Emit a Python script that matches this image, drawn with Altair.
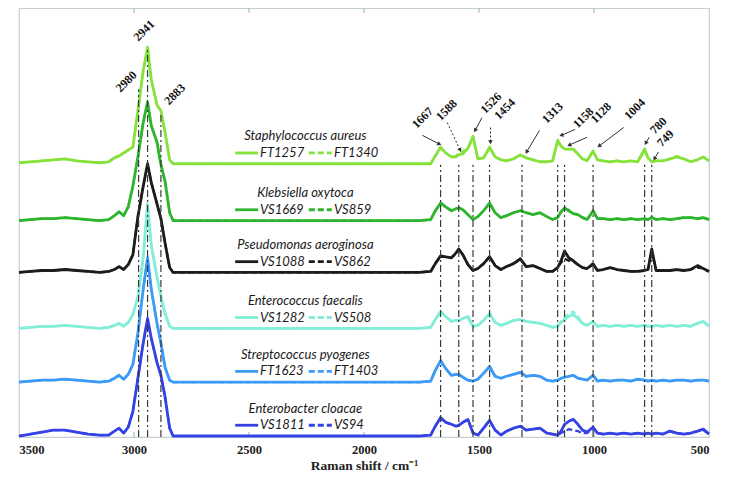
import math
import altair as alt
import pandas as pd

# ---------------- data ----------------
WN = [3500, 3450, 3400, 3350, 3300, 3250, 3200, 3150, 3110, 3085, 3065, 3045, 3025, 3005,
      2983, 2960, 2941, 2925, 2900, 2883, 2865, 2845, 2830,
      1760, 1710, 1690, 1667, 1645, 1620, 1600, 1588, 1570, 1548,
      1526, 1505, 1480, 1454, 1430, 1405, 1380, 1350, 1320, 1295,
      1265, 1235, 1205, 1180, 1158, 1143, 1128, 1110, 1090, 1070,
      1050, 1030, 1004, 985, 960, 930, 900, 870, 840, 810,
      780, 765, 749, 730, 700, 670, 640, 610, 580, 550,
      525, 500]

SPECIES = ["Staphylococcus aureus", "Klebsiella oxytoca", "Pseudomonas aeroginosa",
           "Enterococcus faecalis", "Streptococcus pyogenes", "Enterobacter cloacae"]
STRAIN_SOLID = ["FT1257", "VS1669", "VS1088", "VS1282", "FT1623", "VS1811"]
STRAIN_DASHED = ["FT1340", "VS859", "VS862", "VS508", "FT1403", "VS94"]

SA_FT1257 = [1, 2, 3, 4, 5, 3, 2, 1, 2, 6, 8, 11, 14, 17, 54, 95, 119, 86, 60, 54, 32, 4, 0,
             0, 0, 8, 17, 11, 7, 7, 9, 10, 16,
             28, 5, 6, 17, 7, 4, 3, 5, 9, 6,
             4, 2, 2, 3, 24, 18, 15, 15, 15, 10,
             5, 3, 13, 4, 3, 2, 3, 2, 3, 2,
             15, 6, 2, 3, 3, 5, 7, 5, 2, 4,
             7, 3]
SA_FT1340 = [1, 2, 3, 4, 5, 3, 2, 1, 2, 6, 8, 11, 14, 17, 54, 95, 118, 86, 60, 54, 32, 4, 0,
             0, 0, 8, 16, 11, 7, 8, 11, 13, 15,
             27, 5, 6, 16, 7, 4, 3, 5, 9, 6,
             4, 2, 2, 3, 22, 18, 15, 15, 14, 10,
             5, 3, 12, 4, 3, 2, 3, 2, 3, 2,
             13, 6, 2, 3, 3, 5, 8, 5, 2, 4,
             7, 3]
KO_VS1669 = [0, 1, 2, 2, 3, 2, 1, 0, 1, 5, 9, 5, 14, 35, 65, 100, 121, 97, 80, 57, 40, 8, 0,
             0, 1, 10, 18, 14, 10, 12, 13, 11, 6,
             1, 4, 10, 18, 8, 3, 5, 8, 10, 8,
             6, 8, 4, 1, 3, 9, 13, 10, 7, 6,
             3, 1, 10, 2, 2, 1, 2, 1, 2, 1,
             2, 1, 3, 1, 2, 1, 2, 3, 3, 2,
             3, 1]
KO_VS859 = [0, 1, 2, 2, 3, 2, 1, 0, 1, 5, 9, 5, 14, 35, 65, 100, 120, 97, 80, 57, 40, 8, 0,
            0, 1, 10, 17, 14, 10, 12, 13, 11, 6,
            1, 4, 10, 17, 8, 3, 5, 8, 10, 8,
            6, 8, 4, 1, 3, 9, 12, 11, 7, 6,
            3, 1, 9, 2, 2, 1, 2, 1, 2, 1,
            2, 1, 3, 1, 2, 1, 2, 3, 3, 2,
            3, 1]
PA_VS1088 = [0, 1, 2, 2, 3, 2, 1, 0, 1, 3, 6, 3, 8, 18, 57, 88, 111, 92, 70, 55, 30, 5, 0,
             0, 1, 9, 17, 16, 15, 20, 24, 18, 8,
             2, 4, 9, 16, 7, 3, 6, 9, 14, 6,
             7, 4, 1, 1, 5, 12, 22, 15, 12, 8,
             5, 4, 9, 2, 3, 5, 3, 2, 1, 1,
             2, 3, 24, 2, 2, 2, 3, 2, 3, 7,
             4, 1]
PA_VS862 = [0, 1, 2, 2, 3, 2, 1, 0, 1, 3, 6, 3, 8, 18, 57, 88, 110, 92, 70, 55, 30, 5, 0,
            0, 1, 9, 16, 16, 15, 19, 23, 18, 8,
            2, 4, 9, 16, 7, 3, 6, 9, 13, 6,
            7, 4, 1, 1, 5, 10, 14, 12, 11, 8,
            5, 4, 8, 2, 3, 5, 3, 2, 1, 1,
            2, 3, 22, 2, 2, 2, 3, 2, 3, 5,
            4, 1]
EF_VS1282 = [0, 1, 2, 2, 3, 2, 1, 0, 1, 3, 5, 2, 6, 14, 32, 72, 127, 85, 52, 33, 15, 2, 0,
             0, 1, 9, 17, 12, 7, 8, 8, 10, 12,
             2, 3, 8, 15, 6, 3, 5, 8, 9, 7,
             6, 5, 3, 1, 2, 6, 9, 12, 14, 10,
             5, 3, 7, 2, 3, 2, 3, 2, 3, 2,
             3, 2, 2, 3, 2, 3, 2, 3, 2, 5,
             7, 2]
EF_VS508 = [0, 1, 2, 2, 3, 2, 1, 0, 1, 3, 5, 2, 6, 14, 32, 72, 126, 85, 52, 33, 15, 2, 0,
            0, 1, 9, 16, 12, 7, 8, 8, 10, 10,
            2, 3, 8, 15, 6, 3, 5, 8, 9, 7,
            6, 5, 3, 1, 3, 7, 11, 15, 17, 12,
            5, 3, 7, 2, 3, 2, 3, 2, 3, 2,
            3, 2, 2, 3, 2, 3, 2, 3, 2, 5,
            7, 2]
SP_FT1623 = [0, 1, 2, 2, 3, 2, 1, 0, 1, 4, 7, 3, 8, 18, 50, 95, 127, 95, 60, 40, 15, 2, 0,
             0, 1, 12, 22, 14, 7, 8, 8, 5, 2,
             1, 3, 9, 16, 6, 4, 6, 8, 10, 6,
             7, 6, 2, 1, 2, 4, 5, 6, 7, 4,
             3, 2, 7, 1, 2, 1, 2, 2, 1, 3,
             2, 1, 2, 1, 2, 1, 2, 2, 1, 2,
             2, 1]
SP_FT1403 = [0, 1, 2, 2, 3, 2, 1, 0, 1, 4, 7, 3, 8, 18, 50, 95, 126, 95, 60, 40, 15, 2, 0,
             0, 1, 12, 21, 14, 7, 8, 8, 5, 2,
             1, 3, 9, 16, 6, 4, 6, 8, 10, 6,
             7, 6, 2, 1, 2, 4, 5, 6, 7, 4,
             3, 2, 7, 1, 2, 1, 2, 2, 1, 3,
             2, 1, 2, 1, 2, 1, 2, 2, 1, 2,
             2, 1]
EC_VS1811 = [0, 2, 4, 6, 6, 4, 2, 1, 1, 5, 8, 3, 9, 25, 59, 95, 120, 100, 75, 62, 40, 8, 0,
             0, 1, 10, 19, 14, 12, 10, 11, 14, 17,
             3, 1, 8, 16, 6, 1, 5, 8, 10, 6,
             7, 8, 3, 2, 1, 5, 12, 15, 17, 12,
             6, 4, 9, 3, 2, 3, 2, 3, 2, 3,
             2, 3, 2, 3, 2, 5, 3, 2, 3, 5,
             7, 2]
EC_VS94 = [0, 2, 4, 6, 6, 4, 2, 1, 1, 5, 8, 3, 9, 25, 59, 95, 119, 100, 75, 62, 40, 8, 0,
           0, 1, 10, 18, 14, 12, 10, 11, 14, 16,
           3, 1, 8, 16, 6, 1, 5, 8, 10, 6,
           7, 8, 3, 2, 1, 3, 5, 7, 6, 5,
           3, 3, 8, 3, 2, 3, 2, 3, 2, 3,
           2, 3, 2, 3, 2, 5, 3, 2, 3, 5,
           6, 2]

SOLID = [SA_FT1257, KO_VS1669, PA_VS1088, EF_VS1282, SP_FT1623, EC_VS1811]
DASHED = [SA_FT1340, KO_VS859, PA_VS862, EF_VS508, SP_FT1403, EC_VS94]

# vertical offsets of the stacked spectra (arbitrary intensity units)
OFFSETS = [279, 221, 168, 111, 56, 1]
COLORS = ["#86E23C", "#2EB52E", "#1C1C1C", "#82EED8", "#3B9BF6", "#3442E6"]

# assigned bands
PEAKS = [2980, 2941, 2883, 1667, 1588, 1526, 1454, 1313, 1158, 1128, 1004, 780, 749]
PEAK_TOP = [355, 398, 331, 278, 278, 278, 278, 278, 278, 278, 278, 278, 278]
PEAK_LABEL_WN = [3034, 2957, 2823, 1746, 1642, 1448, 1388, 1181, 1047, 970, 823, 720, 690]
PEAK_LABEL_Y = [363, 415, 350, 326, 334, 341, 335, 331, 326, 331, 335, 318, 305]

ARROW_FROM_WN = [1746, 1638, 1487, 1450, 1237, 1082, 1030, 871, 760, 720]
ARROW_FROM_Y = [308, 321, 326, 316, 313, 314, 306, 316, 306, 291]
ARROW_TO_WN = [1672, 1582, 1517, 1450, 1293, 1142, 1108, 978, 775, 737]
ARROW_TO_Y = [299, 293, 313, 301, 291, 308, 298, 297, 300, 284]
ARROW_DOTTED = [False, True, False, True, False, False, False, False, False, False]

TICKS = [3500, 3000, 2500, 2000, 1500, 1000, 500]

# ---------------- layout ----------------
W, H = 690, 429
YMAX = 438
x_scale = alt.Scale(domain=[500, 3500], reverse=True, nice=False, zero=False)
y_scale = alt.Scale(domain=[0, YMAX], nice=False, zero=False)
x_axis = alt.Axis(values=TICKS, format="d", labelFont="Liberation Serif", labelFontWeight="bold",
                  labelFontSize=12.5, labelColor="#222222", ticks=False, domain=False, grid=False,
                  labelPadding=6, title="Raman shift / cm\u207b\u00b9", titleFont="Liberation Serif",
                  titleFontWeight="bold", titleFontSize=13.5, titleColor="#222222", titlePadding=3)
X = alt.X("wn:Q", scale=x_scale, axis=x_axis)
Y = alt.Y("y:Q", scale=y_scale, axis=None)

layers = []

# inward ticks on bottom and top frame
tick_df = pd.DataFrame({"wn": TICKS[1:-1]})
layers.append(alt.Chart(tick_df).mark_rule(color="#aebbbf", strokeWidth=1.2).encode(
    x=X, y=alt.value(H), y2=alt.value(H - 5)))
layers.append(alt.Chart(tick_df).mark_rule(color="#aebbbf", strokeWidth=1.2).encode(
    x=X, y=alt.value(0), y2=alt.value(5)))

# spectra
for i in range(len(SPECIES)):
    off = OFFSETS[i]
    d1 = pd.DataFrame({"wn": WN, "y": [v + off for v in SOLID[i]]})
    d2 = pd.DataFrame({"wn": WN, "y": [v + off for v in DASHED[i]]})
    layers.append(alt.Chart(d1).mark_line(color=COLORS[i], strokeWidth=2.8,
                                          strokeJoin="round").encode(x=X, y=Y))
    layers.append(alt.Chart(d2).mark_line(color=COLORS[i], strokeWidth=2.2, strokeDash=[6, 3],
                                          strokeJoin="round").encode(x=X, y=Y))

# vertical band lines
vl = pd.DataFrame({"wn": PEAKS, "y": [0] * len(PEAKS), "y2": PEAK_TOP})
layers.append(alt.Chart(vl).mark_rule(color="#3a3a3a", strokeWidth=1.2, strokeDash=[7, 3, 2, 3]).encode(
    x=X, y=Y, y2="y2:Q"))

# legends (species name + two strain entries)
leg_rows = pd.DataFrame({"wn": [2560] * 6, "wn2": [2460] * 6, "y": [o + 11 for o in OFFSETS]})
leg_rows_d = pd.DataFrame({"wn": [2240] * 6, "wn2": [2140] * 6, "y": [o + 11 for o in OFFSETS]})
for i in range(len(SPECIES)):
    layers.append(alt.Chart(leg_rows.iloc[[i]]).mark_rule(color=COLORS[i], strokeWidth=2.8).encode(
        x=X, x2="wn2:Q", y=Y))
    layers.append(alt.Chart(leg_rows_d.iloc[[i]]).mark_rule(color=COLORS[i], strokeWidth=2.8,
                                                            strokeDash=[6, 3]).encode(
        x=X, x2="wn2:Q", y=Y))

sp_df = pd.DataFrame({"wn": [2255] * 6, "y": [o + 28 for o in OFFSETS], "t": SPECIES})
layers.append(alt.Chart(sp_df).mark_text(font="Lato", fontStyle="italic", fontSize=13,
                                         color="#1a1a1a", align="center", baseline="middle").encode(
    x=X, y=Y, text="t:N"))
st1 = pd.DataFrame({"wn": [2452] * 6, "y": [o + 11 for o in OFFSETS], "t": STRAIN_SOLID})
st2 = pd.DataFrame({"wn": [2130] * 6, "y": [o + 11 for o in OFFSETS], "t": STRAIN_DASHED})
for d in (st1, st2):
    layers.append(alt.Chart(d).mark_text(font="Lato", fontStyle="italic", fontSize=13,
                                         color="#1a1a1a", align="left", baseline="middle").encode(
        x=X, y=Y, text="t:N"))

# peak labels
pl = pd.DataFrame({"wn": PEAK_LABEL_WN, "y": PEAK_LABEL_Y, "t": [str(p) for p in PEAKS]})
layers.append(alt.Chart(pl).mark_text(font="Liberation Serif", fontWeight="bold", fontSize=12,
                                      angle=315, color="#111111", align="center",
                                      baseline="middle").encode(x=X, y=Y, text="t:N"))

# arrows
px_per_wn = W / 3000.0
px_per_y = H / YMAX
angles = []
for a, b, c, d in zip(ARROW_FROM_WN, ARROW_FROM_Y, ARROW_TO_WN, ARROW_TO_Y):
    dx = -(c - a) * px_per_wn
    dy = (d - b) * px_per_y
    angles.append(math.degrees(math.atan2(dx, dy)) % 360)
ar = pd.DataFrame({"wn": ARROW_FROM_WN, "y": ARROW_FROM_Y, "wn2": ARROW_TO_WN, "y2": ARROW_TO_Y,
                   "dotted": ARROW_DOTTED, "ang": angles})
layers.append(alt.Chart(ar[~ar.dotted]).mark_rule(color="#333333", strokeWidth=1).encode(
    x=X, y=Y, x2="wn2:Q", y2="y2:Q"))
layers.append(alt.Chart(ar[ar.dotted]).mark_rule(color="#333333", strokeWidth=1, strokeDash=[2, 2]).encode(
    x=X, y=Y, x2="wn2:Q", y2="y2:Q"))
heads = pd.DataFrame({"wn": ARROW_TO_WN, "y": ARROW_TO_Y, "ang": angles})
layers.append(alt.Chart(heads).mark_point(shape="triangle-up", filled=True, size=22, color="#333333",
                                          opacity=1).encode(
    x=X, y=Y, angle=alt.Angle("ang:Q", scale=None)))

chart = alt.layer(*layers).properties(
    width=W, height=H,
    autosize=alt.AutoSizeParams(type="none"),
    padding={"left": 11, "right": 12, "top": 0, "bottom": 37},
).configure_view(stroke="#c5d0d3", strokeWidth=1.2)

chart.save("out.html", embed_options={"renderer": "svg", "actions": False})
